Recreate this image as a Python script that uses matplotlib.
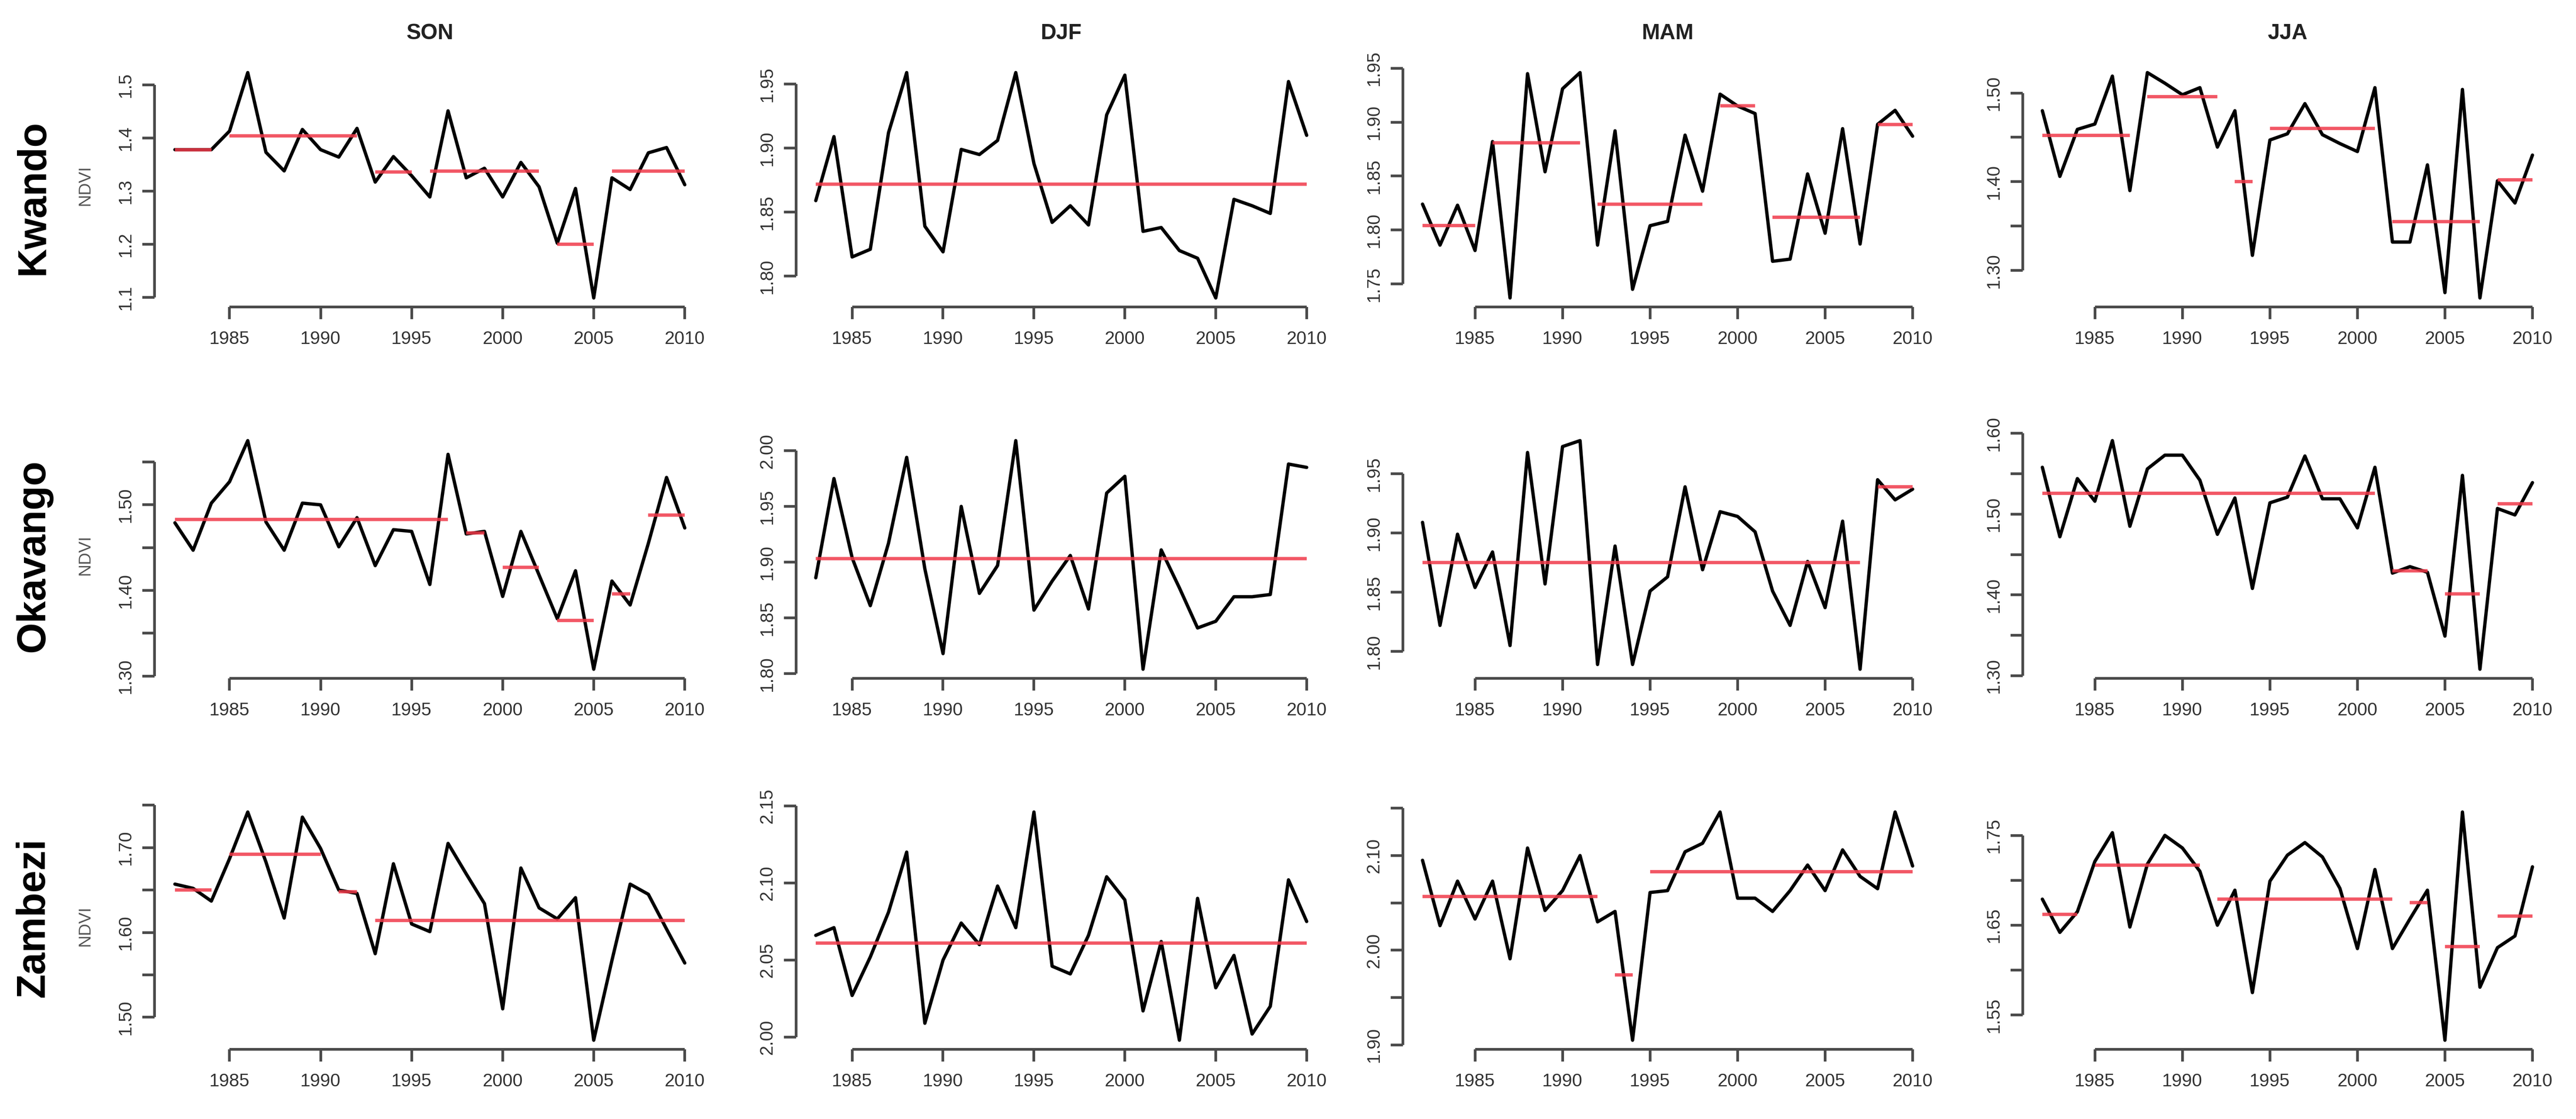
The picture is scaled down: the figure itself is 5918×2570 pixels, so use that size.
import matplotlib
matplotlib.use("Agg")
import matplotlib.pyplot as plt
from matplotlib import font_manager

# ---------------- data ----------------
REGIONS = ["Kwando", "Okavango", "Zambezi"]
SEASONS = ["SON", "DJF", "MAM", "JJA"]

YEARS_FULL = list(range(1982, 2011))   # SON, MAM, JJA
YEARS_DJF = list(range(1983, 2011))    # DJF
XTICKS = [1985, 1990, 1995, 2000, 2005, 2010]

kwando_son = [1.378, 1.378, 1.378, 1.413, 1.523, 1.373, 1.338, 1.416, 1.378, 1.364,
              1.418, 1.317, 1.365, 1.329, 1.289, 1.451, 1.325, 1.343, 1.289, 1.354,
              1.308, 1.202, 1.305, 1.099, 1.325, 1.303, 1.372, 1.382, 1.312]
kwando_djf = [1.859, 1.909, 1.815, 1.821, 1.912, 1.959, 1.839, 1.819, 1.899, 1.895,
              1.906, 1.959, 1.888, 1.842, 1.855, 1.840, 1.926, 1.957, 1.835, 1.838,
              1.820, 1.814, 1.783, 1.860, 1.855, 1.849, 1.952, 1.910]
kwando_mam = [1.824, 1.786, 1.823, 1.781, 1.882, 1.737, 1.945, 1.854, 1.931, 1.946,
              1.786, 1.892, 1.745, 1.804, 1.808, 1.888, 1.836, 1.926, 1.915, 1.908,
              1.771, 1.773, 1.852, 1.797, 1.894, 1.787, 1.898, 1.911, 1.887]
kwando_jja = [1.480, 1.406, 1.459, 1.465, 1.519, 1.390, 1.523, 1.511, 1.498, 1.506,
              1.439, 1.480, 1.317, 1.447, 1.454, 1.488, 1.453, 1.443, 1.434, 1.506,
              1.332, 1.332, 1.419, 1.275, 1.504, 1.269, 1.401, 1.376, 1.430]

okavango_son = [1.479, 1.447, 1.502, 1.527, 1.575, 1.480, 1.447, 1.502, 1.500, 1.451,
                1.485, 1.429, 1.471, 1.469, 1.407, 1.559, 1.466, 1.469, 1.393, 1.469,
                1.418, 1.367, 1.423, 1.308, 1.411, 1.383, 1.455, 1.532, 1.473]
okavango_djf = [1.886, 1.975, 1.904, 1.861, 1.917, 1.994, 1.894, 1.818, 1.950, 1.872,
                1.897, 2.009, 1.857, 1.883, 1.906, 1.858, 1.962, 1.977, 1.804, 1.911,
                1.877, 1.841, 1.847, 1.869, 1.869, 1.871, 1.988, 1.985]
okavango_mam = [1.909, 1.822, 1.899, 1.854, 1.884, 1.805, 1.968, 1.857, 1.973, 1.978,
                1.789, 1.889, 1.789, 1.851, 1.863, 1.939, 1.869, 1.918, 1.914, 1.901,
                1.851, 1.822, 1.876, 1.837, 1.910, 1.785, 1.945, 1.928, 1.937]
okavango_jja = [1.558, 1.472, 1.544, 1.516, 1.591, 1.485, 1.556, 1.573, 1.573, 1.542,
                1.475, 1.520, 1.408, 1.514, 1.521, 1.572, 1.519, 1.519, 1.483, 1.558,
                1.427, 1.435, 1.428, 1.349, 1.548, 1.308, 1.507, 1.499, 1.539]

zambezi_son = [1.657, 1.652, 1.637, 1.687, 1.742, 1.683, 1.617, 1.736, 1.699, 1.650,
               1.646, 1.575, 1.681, 1.610, 1.601, 1.705, 1.669, 1.634, 1.510, 1.676,
               1.629, 1.616, 1.641, 1.473, 1.567, 1.657, 1.645, 1.604, 1.564]
zambezi_djf = [2.066, 2.071, 2.027, 2.052, 2.081, 2.120, 2.009, 2.050, 2.074, 2.060,
               2.098, 2.071, 2.146, 2.046, 2.041, 2.066, 2.104, 2.089, 2.017, 2.062,
               1.998, 2.090, 2.032, 2.053, 2.002, 2.020, 2.102, 2.075]
zambezi_mam = [2.095, 2.026, 2.073, 2.033, 2.073, 1.991, 2.108, 2.042, 2.063, 2.100,
               2.030, 2.041, 1.905, 2.061, 2.063, 2.104, 2.113, 2.146, 2.055, 2.055,
               2.041, 2.063, 2.090, 2.063, 2.106, 2.078, 2.065, 2.146, 2.089]
zambezi_jja = [1.679, 1.642, 1.665, 1.721, 1.753, 1.648, 1.718, 1.750, 1.736, 1.710,
               1.650, 1.689, 1.575, 1.699, 1.728, 1.742, 1.726, 1.691, 1.624, 1.712,
               1.624, 1.657, 1.689, 1.522, 1.776, 1.581, 1.625, 1.638, 1.715]

# segment means: (first year, last year, level)
kwando_son_seg = [(1982, 1984, 1.378), (1985, 1992, 1.404), (1993, 1995, 1.336),
                  (1996, 2002, 1.338), (2003, 2005, 1.200), (2006, 2010, 1.338)]
kwando_djf_seg = [(1983, 2010, 1.872)]
kwando_mam_seg = [(1982, 1985, 1.804), (1986, 1991, 1.881), (1992, 1998, 1.824),
                  (1999, 2001, 1.915), (2002, 2007, 1.812), (2008, 2010, 1.898)]
kwando_jja_seg = [(1982, 1987, 1.452), (1988, 1992, 1.496), (1993, 1994, 1.400),
                  (1995, 2001, 1.460), (2002, 2007, 1.355), (2008, 2010, 1.402)]

okavango_son_seg = [(1982, 1997, 1.483), (1998, 1999, 1.467), (2000, 2002, 1.427),
                    (2003, 2005, 1.365), (2006, 2007, 1.396), (2008, 2010, 1.488)]
okavango_djf_seg = [(1983, 2010, 1.903)]
okavango_mam_seg = [(1982, 2007, 1.875), (2008, 2010, 1.939)]
okavango_jja_seg = [(1982, 2001, 1.526), (2002, 2004, 1.430), (2005, 2007, 1.401),
                    (2008, 2010, 1.513)]

zambezi_son_seg = [(1982, 1984, 1.650), (1985, 1990, 1.692), (1991, 1992, 1.648),
                   (1993, 2010, 1.614)]
zambezi_djf_seg = [(1983, 2010, 2.061)]
zambezi_mam_seg = [(1982, 1992, 2.057), (1993, 1994, 1.974), (1995, 2010, 2.083)]
zambezi_jja_seg = [(1982, 1984, 1.662), (1985, 1991, 1.717), (1992, 2002, 1.679),
                   (2003, 2004, 1.675), (2005, 2007, 1.626), (2008, 2010, 1.660)]

# y ticks and their labels ('' = tick without label)
kwando_yt = [
    ([1.1, 1.2, 1.3, 1.4, 1.5], ["1.1", "1.2", "1.3", "1.4", "1.5"]),
    ([1.80, 1.85, 1.90, 1.95], ["1.80", "1.85", "1.90", "1.95"]),
    ([1.75, 1.80, 1.85, 1.90, 1.95], ["1.75", "1.80", "1.85", "1.90", "1.95"]),
    ([1.30, 1.35, 1.40, 1.45, 1.50], ["1.30", "", "1.40", "", "1.50"]),
]
okavango_yt = [
    ([1.30, 1.35, 1.40, 1.45, 1.50, 1.55], ["1.30", "", "1.40", "", "1.50", ""]),
    ([1.80, 1.85, 1.90, 1.95, 2.00], ["1.80", "1.85", "1.90", "1.95", "2.00"]),
    ([1.80, 1.85, 1.90, 1.95], ["1.80", "1.85", "1.90", "1.95"]),
    ([1.30, 1.35, 1.40, 1.45, 1.50, 1.55, 1.60], ["1.30", "", "1.40", "", "1.50", "", "1.60"]),
]
zambezi_yt = [
    ([1.50, 1.55, 1.60, 1.65, 1.70, 1.75], ["1.50", "", "1.60", "", "1.70", ""]),
    ([2.00, 2.05, 2.10, 2.15], ["2.00", "2.05", "2.10", "2.15"]),
    ([1.90, 1.95, 2.00, 2.05, 2.10, 2.15], ["1.90", "", "2.00", "", "2.10", ""]),
    ([1.55, 1.60, 1.65, 1.70, 1.75], ["1.55", "", "1.65", "", "1.75"]),
]

SERIES = [
    [kwando_son, kwando_djf, kwando_mam, kwando_jja],
    [okavango_son, okavango_djf, okavango_mam, okavango_jja],
    [zambezi_son, zambezi_djf, zambezi_mam, zambezi_jja],
]
SEGMENTS = [
    [kwando_son_seg, kwando_djf_seg, kwando_mam_seg, kwando_jja_seg],
    [okavango_son_seg, okavango_djf_seg, okavango_mam_seg, okavango_jja_seg],
    [zambezi_son_seg, zambezi_djf_seg, zambezi_mam_seg, zambezi_jja_seg],
]
YTICKS = [kwando_yt, okavango_yt, zambezi_yt]

# ---------------- layout / style ----------------
W, H = 5918, 2570
DPI = 100
COL_PX = [(355, 1620), (1829, 3047), (3223, 4439), (4647, 5863)]
ROW_PX = [(146, 705), (991, 1558), (1844, 2410)]
ROW_LABEL_Y = [453, 1277, 2108]

names = {f.name for f in font_manager.fontManager.ttflist}
BASE = "Liberation Sans" if "Liberation Sans" in names else "DejaVu Sans"
NARROW = "Liberation Sans Narrow" if "Liberation Sans Narrow" in names else BASE
plt.rcParams["font.family"] = [BASE, "DejaVu Sans"]

AXCOL = "#4a4a4a"
LABCOL = "#333333"
RED = "#f03a4a"

fig = plt.figure(figsize=(W / DPI, H / DPI), dpi=DPI)
fig.patch.set_facecolor("white")


def padded(lo, hi):
    d = (hi - lo) * 0.04
    return lo - d, hi + d


for r in range(3):
    t, b = ROW_PX[r]
    for c in range(4):
        l, rr = COL_PX[c]
        ax = fig.add_axes([l / W, 1 - b / H, (rr - l) / W, (b - t) / H])
        vals = SERIES[r][c]
        yrs = YEARS_DJF if SEASONS[c] == "DJF" else YEARS_FULL
        ax.plot(yrs, vals, color="black", lw=5.5, solid_joinstyle="round",
                solid_capstyle="round", zorder=2)
        for (s, e, v) in SEGMENTS[r][c]:
            ax.hlines(v, s, e, colors=RED, lw=5.5, alpha=0.85, zorder=3,
                      capstyle="butt")
        ax.set_xlim(*padded(min(yrs), max(yrs)))
        ax.set_ylim(*padded(min(vals), max(vals)))

        ticks, labels = YTICKS[r][c]
        ax.set_xticks(XTICKS)
        ax.set_xticklabels([str(x) for x in XTICKS])
        ax.set_yticks(ticks)
        ax.set_yticklabels(labels)

        for side in ("top", "right"):
            ax.spines[side].set_visible(False)
        for side in ("left", "bottom"):
            ax.spines[side].set_color(AXCOL)
            ax.spines[side].set_linewidth(4.5)
            ax.spines[side].set_capstyle("butt")
        ax.spines["left"].set_bounds(ticks[0], ticks[-1])
        ax.spines["bottom"].set_bounds(XTICKS[0], XTICKS[-1])

        ax.tick_params(axis="both", direction="out", length=20, width=4.5,
                       color=AXCOL, labelcolor=LABCOL, labelsize=30)
        ax.tick_params(axis="x", pad=19)
        ax.tick_params(axis="y", pad=13, labelrotation=90)
        for lab in ax.get_yticklabels():
            lab.set_verticalalignment("center")
        ax.set_facecolor("none")

        if r == 0:
            fig.text((l + rr) / 2 / W, 1 - 77 / H, SEASONS[c], ha="center",
                     va="center", fontsize=36, fontweight="bold",
                     family=[NARROW, "DejaVu Sans"], color="#222222")
        if c == 0:
            fig.text(196 / W, 1 - ((t + b) / 2) / H, "NDVI", rotation=90,
                     ha="center", va="center", fontsize=28, color="#555555")

    fig.text(77 / W, 1 - ROW_LABEL_Y[r] / H, REGIONS[r], rotation=90,
             ha="center", va="center", fontsize=66, fontweight="bold",
             color="black")

fig.savefig("out.png", dpi=DPI, facecolor="white")
